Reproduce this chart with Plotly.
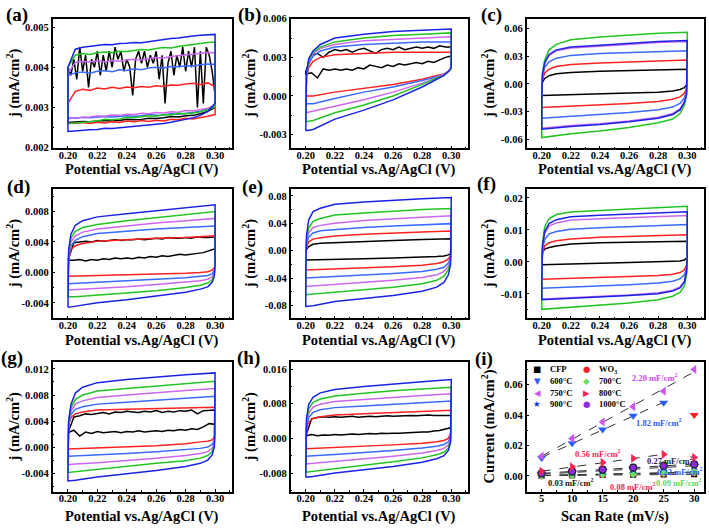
import numpy as np
import plotly.graph_objects as go

W, H = 709, 531

# ---------------- data ----------------
XU = [0.200, 0.2005, 0.202, 0.205, 0.210, 0.220, 0.240, 0.260, 0.280, 0.300]
XL = [0.300, 0.2995, 0.298, 0.295, 0.290, 0.280, 0.260, 0.240, 0.220, 0.205, 0.200]
XN = [0.200, 0.204, 0.208, 0.212, 0.216, 0.220, 0.224, 0.228, 0.232, 0.236, 0.240, 0.244, 0.248,
      0.252, 0.256, 0.260, 0.264, 0.268, 0.272, 0.276, 0.280, 0.284, 0.288, 0.292, 0.296, 0.300]
XA = [0.200, 0.205, 0.210, 0.215, 0.220, 0.225, 0.230, 0.235, 0.240, 0.245, 0.250,
      0.255, 0.260, 0.265, 0.270, 0.275, 0.280, 0.285, 0.290, 0.295, 0.300]
XB = [round(v, 3) for v in np.linspace(0.200, 0.300, 51)]

# curve order: black, red, light blue, violet, green, blue
# (a)
A_BLACK_UP = [0.0040, 0.0038, 0.0042, 0.0037, 0.0045, 0.0039, 0.0043, 0.0035, 0.0042, 0.0040, 0.0044,
              0.0038, 0.0043, 0.0039, 0.0044, 0.0040, 0.0045, 0.0042, 0.0044, 0.0039, 0.0042, 0.0040,
              0.0033, 0.0042, 0.0044, 0.0041, 0.0044, 0.0040, 0.0043, 0.0041, 0.0044, 0.0037, 0.0043,
              0.0031, 0.0041, 0.0044, 0.0038, 0.0043, 0.0040, 0.0045, 0.0039, 0.0044, 0.0040, 0.0045,
              0.0030, 0.0044, 0.0031, 0.0045, 0.0043, 0.0039, 0.0033]
A_BLACK_LO = [0.00300, 0.00290, 0.00284, 0.00280, 0.00279, 0.00276, 0.00277, 0.00274, 0.00272, 0.00273, 0.00270,
              0.00269, 0.00270, 0.00267, 0.00266, 0.00267, 0.00265, 0.00264, 0.00265, 0.00263, 0.00262]
A_UP = [
    [0.00310, 0.00340, 0.00345, 0.00342, 0.00348, 0.00346, 0.00350, 0.00347, 0.00351, 0.00349, 0.00352,
     0.00350, 0.00354, 0.00352, 0.00356, 0.00355, 0.00358, 0.00360, 0.00357, 0.00361, 0.00352],
    [0.00380, 0.00386, 0.00388, 0.00385, 0.00390, 0.00392, 0.00389, 0.00394, 0.00392, 0.00396, 0.00394,
     0.00398, 0.00400, 0.00398, 0.00402, 0.00401, 0.00404, 0.00403, 0.00406, 0.00408, 0.00407],
    [0.00385, 0.00412, 0.00415, 0.00413, 0.00416, 0.00414, 0.00417, 0.00415, 0.00418, 0.00420, 0.00418,
     0.00422, 0.00424, 0.00423, 0.00427, 0.00429, 0.00431, 0.00433, 0.00435, 0.00437, 0.00436],
    [0.00400, 0.00430, 0.00434, 0.00432, 0.00436, 0.00438, 0.00436, 0.00440, 0.00439, 0.00442, 0.00444,
     0.00443, 0.00447, 0.00449, 0.00448, 0.00452, 0.00455, 0.00457, 0.00459, 0.00462, 0.00463],
    [0.00400, 0.00445, 0.00450, 0.00452, 0.00455, 0.00457, 0.00456, 0.00459, 0.00460, 0.00462, 0.00461,
     0.00464, 0.00467, 0.00470, 0.00472, 0.00473, 0.00476, 0.00478, 0.00480, 0.00481, 0.00482],
]
A_LO = [
    [0.00282, 0.00278, 0.00274, 0.00271, 0.00273, 0.00269, 0.00270, 0.00266, 0.00268, 0.00265, 0.00267,
     0.00264, 0.00266, 0.00262, 0.00264, 0.00261, 0.00263, 0.00260, 0.00262, 0.00260, 0.00261],
    [0.00306, 0.00296, 0.00290, 0.00287, 0.00285, 0.00283, 0.00284, 0.00281, 0.00280, 0.00282, 0.00279,
     0.00278, 0.00279, 0.00277, 0.00276, 0.00277, 0.00275, 0.00274, 0.00275, 0.00273, 0.00274],
    [0.00305, 0.00298, 0.00294, 0.00291, 0.00292, 0.00288, 0.00289, 0.00286, 0.00287, 0.00284, 0.00285,
     0.00282, 0.00283, 0.00280, 0.00281, 0.00278, 0.00279, 0.00276, 0.00275, 0.00273, 0.00272],
    [0.00302, 0.00294, 0.00289, 0.00286, 0.00284, 0.00285, 0.00281, 0.00282, 0.00278, 0.00279, 0.00276,
     0.00274, 0.00275, 0.00271, 0.00269, 0.00270, 0.00266, 0.00264, 0.00262, 0.00260, 0.00259],
    [0.00310, 0.00290, 0.00280, 0.00274, 0.00270, 0.00266, 0.00263, 0.00260, 0.00258, 0.00256, 0.00254,
     0.00252, 0.00250, 0.00249, 0.00247, 0.00248, 0.00245, 0.00244, 0.00243, 0.00241, 0.00240],
]

# (b)
B_BLACK_UP = [0.0019, 0.0032, 0.0033, 0.0030, 0.0034, 0.0036, 0.0035, 0.0036, 0.0034, 0.0036, 0.0037, 0.0035, 0.0033,
              0.0036, 0.0037, 0.0036, 0.0038, 0.0036, 0.0037, 0.0038, 0.0037, 0.0038, 0.0037, 0.0039, 0.0038, 0.0038]
B_BLACK_LO = [0.0031, 0.0030, 0.0028, 0.0026, 0.0027, 0.0025, 0.0026, 0.0025, 0.0024, 0.0025, 0.0023, 0.0024, 0.0022,
              0.0023, 0.0024, 0.0021, 0.0022, 0.0020, 0.0021, 0.0020, 0.0021, 0.0020, 0.0021, 0.0014, 0.0018, 0.0017]
B_UP = [
    [0.0000, 0.0015, 0.0022, 0.0027, 0.0030, 0.0032, 0.0033, 0.0034, 0.0034, 0.0034],
    [-0.0006, 0.0015, 0.0025, 0.0031, 0.0035, 0.0038, 0.0040, 0.0041, 0.0042, 0.0042],
    [-0.0013, 0.0016, 0.0027, 0.0033, 0.0037, 0.0040, 0.0043, 0.0044, 0.0045, 0.0046],
    [-0.0020, 0.0017, 0.0028, 0.0034, 0.0038, 0.0042, 0.0045, 0.0047, 0.0048, 0.0049],
    [-0.0027, 0.0018, 0.0029, 0.0035, 0.0040, 0.0045, 0.0048, 0.0050, 0.0051, 0.0052],
]
B_LO = [
    [0.0023, 0.0021, 0.0019, 0.0017, 0.0016, 0.0013, 0.0009, 0.0006, 0.0003, 0.0000, 0.0000],
    [0.0023, 0.0021, 0.0019, 0.0017, 0.0015, 0.0012, 0.0007, 0.0003, -0.0002, -0.0006, -0.0006],
    [0.0023, 0.0021, 0.0019, 0.0017, 0.0014, 0.0010, 0.0003, -0.0003, -0.0008, -0.0012, -0.0013],
    [0.0023, 0.0021, 0.0019, 0.0016, 0.0014, 0.0009, 0.0000, -0.0007, -0.0013, -0.0019, -0.0020],
    [0.0023, 0.0021, 0.0019, 0.0016, 0.0013, 0.0007, -0.0003, -0.0011, -0.0018, -0.0026, -0.0027],
]

# (c)
C_UP = [
    [-0.004, 0.002, 0.006, 0.009, 0.011, 0.0125, 0.0138, 0.0146, 0.0153, 0.016],
    [-0.010, 0.005, 0.012, 0.016, 0.019, 0.021, 0.0228, 0.024, 0.025, 0.026],
    [-0.012, 0.008, 0.018, 0.024, 0.028, 0.031, 0.033, 0.034, 0.035, 0.036],
    [-0.014, 0.010, 0.022, 0.031, 0.036, 0.039, 0.041, 0.043, 0.045, 0.046],
    [-0.015, 0.012, 0.026, 0.037, 0.043, 0.048, 0.051, 0.053, 0.055, 0.056],
    [-0.014, 0.011, 0.023, 0.032, 0.037, 0.040, 0.042, 0.044, 0.046, 0.047],
]
C_LO = [
    [0.002, -0.001, -0.004, -0.006, -0.0075, -0.0088, -0.0098, -0.0106, -0.0113, -0.0122, -0.0125],
    [0.002, -0.005, -0.010, -0.014, -0.0165, -0.019, -0.021, -0.0225, -0.0238, -0.025, -0.0255],
    [0.002, -0.008, -0.015, -0.021, -0.025, -0.028, -0.031, -0.033, -0.035, -0.0365, -0.037],
    [0.002, -0.010, -0.019, -0.027, -0.032, -0.036, -0.040, -0.043, -0.045, -0.0475, -0.048],
    [0.002, -0.012, -0.023, -0.032, -0.038, -0.042, -0.047, -0.051, -0.054, -0.057, -0.058],
    [0.002, -0.011, -0.020, -0.028, -0.033, -0.037, -0.041, -0.044, -0.046, -0.048, -0.049],
]

# (d)
D_BLACK_UP = [0.0016, 0.0039, 0.0040, 0.0041, 0.0040, 0.0042, 0.0041, 0.0042, 0.0043, 0.0042, 0.0043, 0.0043, 0.0044,
              0.0043, 0.0044, 0.0045, 0.0044, 0.0046, 0.0045, 0.0045, 0.0046, 0.0045, 0.0047, 0.0046, 0.0046, 0.0047]
D_BLACK_LO = [0.0031, 0.0028, 0.0026, 0.0025, 0.0024, 0.0023, 0.0024, 0.0022, 0.0021, 0.0022, 0.0020, 0.0021, 0.0019,
              0.0020, 0.0018, 0.0019, 0.0018, 0.0019, 0.0017, 0.0018, 0.0016, 0.0017, 0.0015, 0.0017, 0.0016, 0.0016]
D_UP = [
    [-0.0005, 0.0020, 0.0030, 0.0035, 0.0038, 0.0041, 0.0043, 0.0045, 0.0046, 0.0048],
    [-0.0015, 0.0022, 0.0035, 0.0042, 0.0047, 0.0051, 0.0054, 0.0057, 0.0059, 0.0061],
    [-0.0023, 0.0025, 0.0040, 0.0048, 0.0053, 0.0057, 0.0061, 0.0065, 0.0068, 0.0071],
    [-0.0032, 0.0028, 0.0045, 0.0054, 0.0059, 0.0063, 0.0068, 0.0072, 0.0076, 0.0080],
    [-0.0046, 0.0030, 0.0050, 0.0062, 0.0068, 0.0073, 0.0077, 0.0081, 0.0085, 0.0089],
]
D_LO = [
    [0.0012, 0.0006, 0.0003, 0.0001, 0.0000, -0.0001, -0.0002, -0.0003, -0.0004, -0.0005, -0.0005],
    [0.0012, 0.0003, -0.0002, -0.0004, -0.0005, -0.0007, -0.0009, -0.0011, -0.0013, -0.0015, -0.0015],
    [0.0012, 0.0000, -0.0006, -0.0009, -0.0011, -0.0013, -0.0016, -0.0019, -0.0021, -0.0023, -0.0023],
    [0.0012, -0.0003, -0.0010, -0.0014, -0.0017, -0.0020, -0.0024, -0.0027, -0.0030, -0.0032, -0.0032],
    [0.0012, -0.0005, -0.0013, -0.0019, -0.0022, -0.0026, -0.0031, -0.0036, -0.0040, -0.0045, -0.0046],
]

# (e)
E_UP = [
    [-0.005, 0.002, 0.006, 0.0095, 0.011, 0.012, 0.0135, 0.015, 0.0163, 0.0175],
    [-0.010, 0.006, 0.013, 0.017, 0.019, 0.0215, 0.024, 0.026, 0.0275, 0.0287],
    [-0.015, 0.010, 0.020, 0.026, 0.029, 0.031, 0.034, 0.036, 0.038, 0.0395],
    [-0.020, 0.013, 0.026, 0.034, 0.037, 0.040, 0.044, 0.047, 0.049, 0.051],
    [-0.025, 0.017, 0.033, 0.043, 0.047, 0.052, 0.055, 0.058, 0.060, 0.0615],
    [-0.030, 0.022, 0.045, 0.057, 0.062, 0.0676, 0.071, 0.0738, 0.0758, 0.0776],
]
E_LO = [
    [-0.002, -0.004, -0.006, -0.0075, -0.0085, -0.0095, -0.0105, -0.0115, -0.0122, -0.0132, -0.0135],
    [0.000, -0.007, -0.012, -0.016, -0.0185, -0.021, -0.0232, -0.0248, -0.026, -0.0275, -0.028],
    [0.000, -0.010, -0.018, -0.024, -0.027, -0.030, -0.033, -0.0355, -0.037, -0.039, -0.0395],
    [0.000, -0.013, -0.023, -0.030, -0.035, -0.039, -0.043, -0.046, -0.049, -0.051, -0.052],
    [0.000, -0.016, -0.028, -0.037, -0.043, -0.048, -0.053, -0.057, -0.060, -0.063, -0.064],
    [0.000, -0.020, -0.035, -0.046, -0.053, -0.059, -0.065, -0.070, -0.074, -0.080, -0.081],
]

# (f)
F_UP = [
    [0.001, 0.003, 0.004, 0.0045, 0.005, 0.0056, 0.006, 0.0062, 0.0064, 0.0065],
    [-0.003, 0.003, 0.005, 0.006, 0.0066, 0.0072, 0.0077, 0.008, 0.0083, 0.0085],
    [-0.005, 0.004, 0.007, 0.0088, 0.0095, 0.0102, 0.0107, 0.0110, 0.0114, 0.0117],
    [-0.006, 0.005, 0.009, 0.0112, 0.0122, 0.0131, 0.0135, 0.0139, 0.0142, 0.0145],
    [-0.007, 0.006, 0.011, 0.0135, 0.0148, 0.0156, 0.0161, 0.0165, 0.0170, 0.0174],
    [-0.006, 0.005, 0.0095, 0.012, 0.0132, 0.0141, 0.0146, 0.0150, 0.0154, 0.0157],
]
F_LO = [
    [0.002, 0.0012, 0.0006, 0.0003, 0.0002, 0.0000, -0.0002, -0.0004, -0.0006, -0.0008, -0.0009],
    [0.002, -0.001, -0.0025, -0.0033, -0.0038, -0.0042, -0.0045, -0.0048, -0.0050, -0.0053, -0.0054],
    [0.002, -0.002, -0.004, -0.0053, -0.0060, -0.0066, -0.0071, -0.0075, -0.0078, -0.0081, -0.0082],
    [0.002, -0.003, -0.0060, -0.0078, -0.0088, -0.0096, -0.0103, -0.0108, -0.0112, -0.0115, -0.0116],
    [0.001, -0.004, -0.0075, -0.0095, -0.0107, -0.0118, -0.0128, -0.0135, -0.0141, -0.0147, -0.0148],
    [0.002, -0.003, -0.0063, -0.0081, -0.0091, -0.0099, -0.0105, -0.0110, -0.0114, -0.0117, -0.0118],
]

# (g)
G_BLACK_UP = [0.0022, 0.0046, 0.0048, 0.0051, 0.0050, 0.0052, 0.0053, 0.0051, 0.0054, 0.0053, 0.0055, 0.0054, 0.0053,
              0.0055, 0.0054, 0.0056, 0.0053, 0.0055, 0.0054, 0.0056, 0.0055, 0.0057, 0.0051, 0.0056, 0.0056, 0.0057]
G_BLACK_LO = [0.0035, 0.0036, 0.0031, 0.0027, 0.0028, 0.0026, 0.0027, 0.0025, 0.0026, 0.0024, 0.0025, 0.0024, 0.0023,
              0.0025, 0.0023, 0.0024, 0.0022, 0.0024, 0.0023, 0.0022, 0.0024, 0.0021, 0.0023, 0.0017, 0.0026, 0.0022]
G_UP = [
    [0.0000, 0.0035, 0.0045, 0.0051, 0.0054, 0.0057, 0.0058, 0.0059, 0.0060, 0.0061],
    [-0.0010, 0.0035, 0.0050, 0.0058, 0.0062, 0.0066, 0.0069, 0.0072, 0.0075, 0.0078],
    [-0.0020, 0.0038, 0.0055, 0.0066, 0.0071, 0.0076, 0.0080, 0.0084, 0.0087, 0.0090],
    [-0.0030, 0.0040, 0.0060, 0.0073, 0.0080, 0.0086, 0.0090, 0.0094, 0.0098, 0.0101],
    [-0.0040, 0.0040, 0.0065, 0.0083, 0.0092, 0.0099, 0.0104, 0.0108, 0.0111, 0.0114],
]
G_LO = [
    [0.0020, 0.0015, 0.0011, 0.0009, 0.0008, 0.0005, 0.0002, 0.0000, -0.0002, -0.0003, -0.0003],
    [0.0020, 0.0010, 0.0004, 0.0000, -0.0002, -0.0004, -0.0007, -0.0010, -0.0012, -0.0014, -0.0014],
    [0.0020, 0.0006, -0.0002, -0.0007, -0.0010, -0.0013, -0.0017, -0.0021, -0.0024, -0.0026, -0.0027],
    [0.0020, 0.0003, -0.0007, -0.0013, -0.0017, -0.0021, -0.0025, -0.0030, -0.0034, -0.0038, -0.0039],
    [0.0020, 0.0000, -0.0012, -0.0020, -0.0025, -0.0030, -0.0036, -0.0041, -0.0046, -0.0051, -0.0052],
]

# (h)
H_BLACK_UP = [0.0006, 0.0045, 0.0048, 0.0050, 0.0049, 0.0050, 0.0049, 0.0050, 0.0051, 0.0049, 0.0050, 0.0051, 0.0050,
              0.0051, 0.0052, 0.0051, 0.0052, 0.0052, 0.0053, 0.0052, 0.0053, 0.0054, 0.0053, 0.0053, 0.0052, 0.0053]
H_BLACK_LO = [0.0025, 0.0021, 0.0018, 0.0017, 0.0015, 0.0015, 0.0014, 0.0013, 0.0013, 0.0012, 0.0012, 0.0011, 0.0012,
              0.0010, 0.0011, 0.0010, 0.0009, 0.0010, 0.0009, 0.0008, 0.0009, 0.0007, 0.0008, 0.0006, 0.0009, 0.0006]
H_UP = [
    [-0.0023, 0.0025, 0.0038, 0.0046, 0.0050, 0.0054, 0.0057, 0.0060, 0.0062, 0.0065],
    [-0.0040, 0.0030, 0.0048, 0.0060, 0.0066, 0.0071, 0.0075, 0.0079, 0.0082, 0.0086],
    [-0.0058, 0.0035, 0.0058, 0.0072, 0.0079, 0.0085, 0.0090, 0.0095, 0.0099, 0.0103],
    [-0.0077, 0.0040, 0.0068, 0.0083, 0.0091, 0.0098, 0.0104, 0.0110, 0.0114, 0.0118],
    [-0.0090, 0.0045, 0.0078, 0.0095, 0.0105, 0.0113, 0.0120, 0.0126, 0.0131, 0.0136],
]
H_LO = [
    [0.0025, 0.0010, 0.0000, -0.0005, -0.0008, -0.0011, -0.0015, -0.0018, -0.0021, -0.0023, -0.0024],
    [0.0025, 0.0005, -0.0008, -0.0014, -0.0018, -0.0022, -0.0028, -0.0033, -0.0037, -0.0040, -0.0041],
    [0.0025, 0.0000, -0.0015, -0.0023, -0.0028, -0.0034, -0.0041, -0.0047, -0.0053, -0.0058, -0.0059],
    [0.0025, -0.0005, -0.0022, -0.0032, -0.0038, -0.0045, -0.0054, -0.0062, -0.0070, -0.0077, -0.0078],
    [0.0025, -0.0010, -0.0028, -0.0040, -0.0047, -0.0055, -0.0065, -0.0073, -0.0080, -0.0088, -0.0090],
]

# (i)
SCAN_RATE = [5, 10, 15, 20, 25, 30]
I_CFP = [0.0003, 0.0005, 0.0006, 0.0008, 0.0009, 0.0011]
I_WO3 = [0.0002, 0.0006, 0.0010, 0.0014, 0.0018, 0.0022]
I_600 = [0.0118, 0.0215, 0.0306, 0.0395, 0.0482, 0.0400]
I_700 = [0.0004, 0.0008, 0.0013, 0.0017, 0.0022, 0.0026]
I_750 = [0.0130, 0.0247, 0.0355, 0.0455, 0.0557, 0.0700]
I_800 = [0.0030, 0.0060, 0.0088, 0.0115, 0.0142, 0.0122]
I_900 = [0.0012, 0.0023, 0.0034, 0.0045, 0.0056, 0.0067]
I_1000 = [0.0017, 0.0030, 0.0042, 0.0055, 0.0068, 0.0077]
SERIES_NAMES = ["CFP", "WO<sub>3</sub>", "600°C", "700°C", "750°C", "800°C", "900°C", "1000°C"]
SLOPE_TEXT = ["2.20 mF/cm<sup>2</sup>", "1.82 mF/cm<sup>2</sup>", "0.56 mF/cm<sup>2</sup>",
              "0.27 mF/cm<sup>2</sup>", "0.22 mF/cm<sup>2</sup>", "0.03 mF/cm<sup>2</sup>",
              "0.08 mF/cm<sup>2</sup>", "0.09 mF/cm<sup>2</sup>"]

# ---------------- style / layout ----------------
SERIF = "Liberation Serif"
CURVE_COLORS = ["#000000", "#ff2020", "#3a6aff", "#cc66ee", "#22c422", "#1a22e6"]

COLS = [(52.5, 232.0), (290.5, 468.0), (526.5, 704.0)]
ROWS = [(14.0, 146.0), (187.5, 319.5), (364.0, 496.0)]
XTITLE_Y = [168, 342, 521]
YTITLE_X = [13.5, 249.5, 488.5]


def px(x):
    return x / W


def py(y):
    return 1 - y / H


fig = go.Figure()


def add_loop(ax, xu, yu, xl, yl, color):
    x = list(xu) + list(xl) + [xu[0]]
    y = list(yu) + list(yl) + [yu[0]]
    fig.add_trace(go.Scatter(x=x, y=y, mode="lines", line=dict(color=color, width=1.5),
                             xaxis="x" + ax, yaxis="y" + ax, showlegend=False, hoverinfo="skip"))


# (a)
add_loop("", XB, A_BLACK_UP, XA[::-1], A_BLACK_LO, CURVE_COLORS[0])
for k in range(5):
    add_loop("", XA, A_UP[k], XA[::-1], A_LO[k], CURVE_COLORS[k + 1])

# panels with noisy black loop
for ax, bu, bl, ups, los in [("2", B_BLACK_UP, B_BLACK_LO, B_UP, B_LO),
                             ("4", D_BLACK_UP, D_BLACK_LO, D_UP, D_LO),
                             ("7", G_BLACK_UP, G_BLACK_LO, G_UP, G_LO),
                             ("8", H_BLACK_UP, H_BLACK_LO, H_UP, H_LO)]:
    add_loop(ax, XN, bu, XN[::-1], bl, CURVE_COLORS[0])
    for k in range(5):
        add_loop(ax, XU, ups[k], XL, los[k], CURVE_COLORS[k + 1])

# smooth panels
for ax, ups, los in [("3", C_UP, C_LO), ("5", E_UP, E_LO), ("6", F_UP, F_LO)]:
    for k in range(6):
        add_loop(ax, XU, ups[k], XL, los[k], CURVE_COLORS[k])

# (i) fitted lines
SERIES = [I_CFP, I_WO3, I_600, I_700, I_750, I_800, I_900, I_1000]
FIT_N = [6, 6, 5, 6, 6, 5, 6, 6]
for vals, n in zip(SERIES, FIT_N):
    k, b = np.polyfit(SCAN_RATE[:n], vals[:n], 1)
    xs = [SCAN_RATE[0], SCAN_RATE[n - 1]]
    fig.add_trace(go.Scatter(x=xs, y=[k * v + b for v in xs], mode="lines",
                             line=dict(color="#333333", width=1, dash="dash"),
                             xaxis="x9", yaxis="y9", showlegend=False, hoverinfo="skip"))

MARKERS = {
    0: dict(symbol="square", color="#000000", size=6),
    1: dict(symbol="circle", color="#ff2020", size=7),
    3: dict(symbol="diamond", color="#66dd66", size=7),
    6: dict(symbol="star", color="#2233dd", size=8),
    7: dict(symbol="circle", color="#8a2be2", size=7, line=dict(color="#222222", width=1.2)),
    5: dict(symbol="triangle-right", color="#ff2255", size=8),
    2: dict(symbol="triangle-down", color=["#2a5cff"] * 5 + ["#ff2020"], size=8),
    4: dict(symbol="triangle-left", color="#cc55ee", size=8),
}
for idx in [0, 1, 3, 6, 7, 5, 2, 4]:
    fig.add_trace(go.Scatter(x=SCAN_RATE, y=SERIES[idx], mode="markers", marker=MARKERS[idx],
                             xaxis="x9", yaxis="y9", showlegend=False, name=SERIES_NAMES[idx]))

# axes
TF = dict(family=SERIF, size=10.5, color="black", weight="bold")
XT_CV = [0.20, 0.22, 0.24, 0.26, 0.28, 0.30]
X_RANGE_CV = [0.1895, 0.3115]

PANEL_Y = {
    1: ([0.00198, 0.00521], [0.002, 0.003, 0.004, 0.005], 3),
    2: ([-0.00406, 0.0060], [-0.003, 0.0, 0.003, 0.006], 3),
    3: ([-0.0696, 0.0707], [-0.06, -0.03, 0.0, 0.03, 0.06], 2),
    4: ([-0.00606, 0.01097], [-0.004, 0.0, 0.004, 0.008], 3),
    5: ([-0.0986, 0.090], [-0.08, -0.04, 0.0, 0.04, 0.08], 2),
    6: ([-0.01765, 0.0228], [-0.01, 0.0, 0.01, 0.02], 2),
    7: ([-0.00685, 0.01305], [-0.004, 0.0, 0.004, 0.008, 0.012], 3),
    8: ([-0.0123, 0.0176], [-0.008, 0.0, 0.008, 0.016], 3),
    9: ([-0.0103, 0.0748], [0.0, 0.02, 0.04, 0.06], 2),
}

layout_axes = {}
for i in range(1, 10):
    r, c = (i - 1) // 3, (i - 1) % 3
    sfx = "" if i == 1 else str(i)
    yr, yt, dec = PANEL_Y[i]
    common = dict(showline=True, linecolor="black", linewidth=1.5, mirror=True, showgrid=False,
                  zeroline=False, ticks="inside", ticklen=3, tickwidth=1, tickcolor="black",
                  tickfont=TF, tickmode="array")
    if i == 9:
        xa = dict(range=[2.53, 31.6], tickvals=SCAN_RATE, ticktext=[str(v) for v in SCAN_RATE],
                  minor=dict(ticks="inside", ticklen=2, tickcolor="black", tickmode="linear", tick0=2.5, dtick=2.5))
    else:
        xa = dict(range=X_RANGE_CV, tickvals=XT_CV, ticktext=[f"{v:.2f}" for v in XT_CV],
                  minor=dict(ticks="inside", ticklen=2, tickcolor="black", tickmode="linear", tick0=0.2, dtick=0.01))
    xa["ticklabelstandoff"] = -4
    ystep = yt[1] - yt[0]
    ya = dict(range=yr, tickvals=yt, ticktext=[f"{v:.{dec}f}" for v in yt],
              minor=dict(ticks="inside", ticklen=2, tickcolor="black", tickmode="linear",
                         tick0=yt[0], dtick=ystep / 2))
    xa.update(common)
    ya.update(common)
    xa.update(domain=[px(COLS[c][0]), px(COLS[c][1])], anchor="y" + sfx)
    ya.update(domain=[py(ROWS[r][1]), py(ROWS[r][0])], anchor="x" + sfx)
    layout_axes["xaxis" + sfx] = xa
    layout_axes["yaxis" + sfx] = ya

ann = []
# axis titles
for r in range(3):
    for c in range(3):
        xt = "Scan Rate (mV/s)" if (r, c) == (2, 2) else "Potential vs.Ag/AgCl (V)"
        yt = "Current (mA/cm<sup>2</sup>)" if (r, c) == (2, 2) else "j (mA/cm<sup>2</sup>)"
        ann.append(dict(text=f"<b>{xt}</b>", x=px((COLS[c][0] + COLS[c][1]) / 2), y=py(XTITLE_Y[r]),
                        xref="paper", yref="paper", showarrow=False, xanchor="center", yanchor="middle",
                        font=dict(family=SERIF, size=14.5, color="black")))
        ann.append(dict(text=f"<b>{yt}</b>", x=px(YTITLE_X[c]), y=py((ROWS[r][0] + ROWS[r][1]) / 2),
                        xref="paper", yref="paper", showarrow=False, textangle=-90,
                        xanchor="center", yanchor="middle",
                        font=dict(family=SERIF, size=14.5, color="black")))

# panel letters
LETTERS = ["(a)", "(b)", "(c)", "(d)", "(e)", "(f)", "(g)", "(h)", "(i)"]
LETTER_POS = [(16.5, 10.5), (249.5, 10.5), (491, 10.5), (18.5, 185.5), (252.5, 185),
              (486, 182), (12, 360), (248, 360), (484, 361)]
for t, (lx, ly) in zip(LETTERS, LETTER_POS):
    ann.append(dict(text=f"<b>{t}</b>", x=px(lx), y=py(ly), xref="paper", yref="paper",
                    showarrow=False, xanchor="center", yanchor="middle",
                    font=dict(family=SERIF, size=19, color="black")))

# slope labels in (i)
SLOPE_POS = [(23.5, 0.065), (24.2, 0.035), (14.2, 0.0148), (26.0, 0.0100),
             (27.7, 0.0028), (9.8, -0.0041), (19.9, -0.0067), (27.5, -0.0041)]
SLOPE_COL = ["#cc44ee", "#2a5cff", "#ff2255", "#3a2040", "#2a5cff", "#111111", "#ff2255", "#55dd55"]
for t, (sx, sy), col in zip(SLOPE_TEXT, SLOPE_POS, SLOPE_COL):
    ann.append(dict(text=f"<b>{t}</b>", x=sx, y=sy, xref="x9", yref="y9", showarrow=False,
                    xanchor="center", yanchor="middle",
                    font=dict(family=SERIF, size=8.5, color=col)))

# hand-built two-column legend for (i)
LEG_GLYPH = ["■", "●", "▼", "◆", "◀", "▶", "★", "●"]
LEG_COLOR = ["#000000", "#ff2020", "#2a5cff", "#66dd66", "#cc55ee", "#ff2255", "#2233dd", "#8a2be2"]
LEG_ROW_Y = [371, 383, 395, 407]
LEG_COL_X = [(537, 548), (586, 597)]
for j in range(8):
    rr, cc = j // 2, j % 2
    gx, tx = LEG_COL_X[cc]
    ann.append(dict(text=LEG_GLYPH[j], x=px(gx), y=py(LEG_ROW_Y[rr]), xref="paper", yref="paper",
                    showarrow=False, xanchor="center", yanchor="middle",
                    font=dict(family="DejaVu Sans", size=8.5, color=LEG_COLOR[j])))
    ann.append(dict(text=f"<b>{SERIES_NAMES[j]}</b>", x=px(tx), y=py(LEG_ROW_Y[rr]), xref="paper",
                    yref="paper", showarrow=False, xanchor="left", yanchor="middle",
                    font=dict(family=SERIF, size=8.5, color="black")))

fig.update_layout(width=W, height=H, margin=dict(l=0, r=0, t=0, b=0),
                  paper_bgcolor="white", plot_bgcolor="white", showlegend=False,
                  annotations=ann, **layout_axes)

fig.write_html("out.html", config={"displayModeBar": False},
               post_script="document.body.style.margin='0px';document.body.style.overflow='hidden';")
